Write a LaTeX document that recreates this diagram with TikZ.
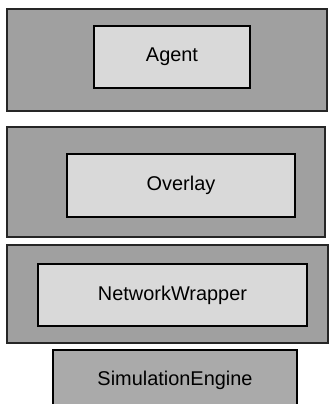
\documentclass[tikz,border=0pt]{standalone}
\usepackage{fontspec}
\setmainfont{Liberation Sans}
\usetikzlibrary{positioning}
\definecolor{layergray}{HTML}{A0A0A0}
\definecolor{boxgray}{HTML}{D9D9D9}
\definecolor{enginegray}{HTML}{AAAAAA}

\begin{document}
\begin{tikzpicture}
  [x=0.03cm,y=-0.03cm,
  layer/.style={rectangle,draw=black!85,fill=layergray,line width=1pt,inner sep=0pt},
  comp/.style={rectangle,draw=black,fill=boxgray,line width=1.9pt,inner sep=0pt,font=\fontsize{17}{20}\selectfont},
  engine/.style={rectangle,draw=black,fill=enginegray,line width=1.6pt,inner sep=0pt,font=\fontsize{17}{20}\selectfont}]
  \useasboundingbox (0,0) rectangle (329,404);
  \clip (0,0) rectangle (329,404);

  \node[layer,minimum width=9.6cm,minimum height=3.06cm] (agentlayer) at (167,60) {};
  \node[comp,minimum width=4.68cm,minimum height=1.86cm] (agent) at (172,57) {Agent};

  \node[layer,minimum width=9.54cm,minimum height=3.3cm] (overlaylayer) at (166,182) {};
  \node[comp,minimum width=6.84cm,minimum height=1.89cm] (overlay) at (181,185.5) {Overlay};

  \node[layer,minimum width=9.63cm,minimum height=2.94cm] (wrapperlayer) at (167.5,294) {};
  \node[comp,minimum width=8.07cm,minimum height=1.86cm] (wrapper) at (172.5,295) {NetworkWrapper};

  \node[engine,minimum width=7.32cm,minimum height=1.8cm] (engine) at (175,380) {SimulationEngine};

\end{tikzpicture}
\end{document}
